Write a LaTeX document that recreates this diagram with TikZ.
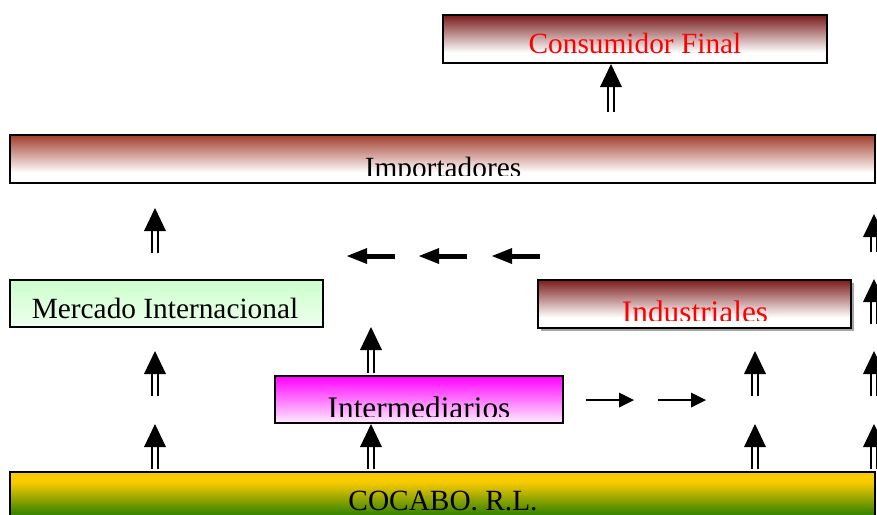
\documentclass[tikz,border=0pt]{standalone}
\usepackage{fontspec}
\setmainfont{Liberation Serif}
\usetikzlibrary{calc,fit}
\definecolor{maroonA}{RGB}{120,26,26}
\definecolor{maroonB}{RGB}{162,60,44}
\definecolor{maroonC}{RGB}{125,28,28}
\definecolor{cocaY}{RGB}{248,202,0}
\definecolor{cocaG}{RGB}{62,134,0}
\definecolor{mercG}{RGB}{204,255,204}
\definecolor{mercW}{RGB}{238,255,238}
\definecolor{magTop}{RGB}{255,0,255}
\definecolor{magBot}{RGB}{255,238,255}
\pgfdeclareverticalshading{fadeA}{100bp}{color(0bp)=(white); color(25bp)=(white); color(36bp)=(white); color(75bp)=(maroonA); color(100bp)=(maroonA)}
\pgfdeclareverticalshading{fadeB}{100bp}{color(0bp)=(white); color(25bp)=(white); color(36bp)=(white); color(75bp)=(maroonB); color(100bp)=(maroonB)}
\pgfdeclareverticalshading{fadeC}{100bp}{color(0bp)=(white); color(25bp)=(white); color(36bp)=(white); color(75bp)=(maroonC); color(100bp)=(maroonC)}
\pgfdeclareverticalshading{coca}{100bp}{color(0bp)=(cocaG); color(25bp)=(cocaG); color(40bp)=(cocaG); color(66bp)=(cocaY); color(100bp)=(cocaY)}
\newcommand\DblUp[2]{%
  \fill ($(#2)$) -- ($(#2)+(-11,23)$) -- ($(#2)+(11,23)$) -- cycle;
  \draw[shaftln] ($(#1)+(-3,0)$) -- ($(#2)+(-3,22)$);
  \draw[shaftln] ($(#1)+(3,0)$) -- ($(#2)+(3,22)$);}
\newcommand\BigLeft[2]{%
  \fill ($(#2)$) -- ($(#2)+(20,-8)$) -- ($(#2)+(20,8)$) -- cycle;
  \draw[line width=3.75pt] ($(#1)$) -- ($(#2)+(19,0)$);}
\newcommand\SmallRight[2]{%
  \fill ($(#2)$) -- ($(#2)+(-15,-7.5)$) -- ($(#2)+(-15,7.5)$) -- cycle;
  \draw[line width=1.4pt] ($(#1)$) -- ($(#2)+(-14,0)$);}
\begin{document}
\begin{tikzpicture}[x=0.75pt,y=-0.75pt,
  box/.style={draw=black, line width=1.5pt, inner sep=0pt},
  lbl/.style={font=\fontsize{22}{26}\selectfont, anchor=base, inner sep=0pt},
  lblbig/.style={font=\fontsize{23.5}{28}\selectfont, anchor=base, inner sep=0pt},
  shaftln/.style={line width=1.5pt}]
\useasboundingbox (0,0) rectangle (877,514);
\clip (0,0) rectangle (877,514);

% boxes
\node[box, shade, shading=fadeA, fit={(443,15) (827,63)}] (cons) {};
\node[box, shade, shading=fadeB, fit={(10,135) (875,183)}] (imp) {};
\node[box, shade, top color=mercG, bottom color=mercW, fit={(10,280) (323,327)}] (merc) {};
\fill[gray!70] (541,283) rectangle (854,331);
\node[box, shade, shading=fadeC, fit={(538,280) (851,328)}] (ind) {};
\node[box, shade, top color=magTop, bottom color=magBot, fit={(275,376) (563,423)}] (inter) {};
\node[box, shade, shading=coca, fit={(10,472) (875,530)}] (coca) {};

% texts
\node[lbl, text=red] (consT) at (635,53) {Consumidor Final};
\begin{scope}
  \clip (12,137) rectangle (873,175);
  \node[lbl] (impT) at (443,177) {Importadores};
\end{scope}
\node[lbl] (mercT) at (165,318) {Mercado Internacional};
\begin{scope}
  \clip (540,282) rectangle (849,320);
  \node[lblbig, text=red] (indT) at (695,322) {Industriales};
\end{scope}
\begin{scope}
  \clip (277,378) rectangle (561,416);
  \node[lblbig] (interT) at (419,418) {Intermediarios};
\end{scope}
\node[lbl] (cocaT) at (443,510) {COCABO. R.L.};

% arrow end points
\coordinate (a1s) at (611,112); \coordinate (a1e) at (611,64);
\coordinate (a2s) at (155,253); \coordinate (a2e) at (155,208);
\coordinate (a3s) at (155,396); \coordinate (a3e) at (155,351);
\coordinate (a4s) at (155,469); \coordinate (a4e) at (155,424);
\coordinate (a5s) at (371,373); \coordinate (a5e) at (371,327);
\coordinate (a6s) at (371,469); \coordinate (a6e) at (371,424);
\coordinate (a7s) at (755,396); \coordinate (a7e) at (755,351);
\coordinate (a8s) at (755,469); \coordinate (a8e) at (755,424);
\coordinate (r1s) at (874,252); \coordinate (r1e) at (874,214);
\coordinate (r2s) at (874,324); \coordinate (r2e) at (874,279);
\coordinate (r3s) at (874,396); \coordinate (r3e) at (874,351);
\coordinate (r4s) at (874,469); \coordinate (r4e) at (874,424);
\coordinate (l1s) at (395,256); \coordinate (l1e) at (347,256);
\coordinate (l2s) at (467,256); \coordinate (l2e) at (419,256);
\coordinate (l3s) at (540,256); \coordinate (l3e) at (492,256);
\coordinate (s1s) at (586,400); \coordinate (s1e) at (634,400);
\coordinate (s2s) at (658,400); \coordinate (s2e) at (706,400);

\DblUp{a1s}{a1e}
\DblUp{a2s}{a2e}
\DblUp{a3s}{a3e}
\DblUp{a4s}{a4e}
\DblUp{a5s}{a5e}
\DblUp{a6s}{a6e}
\DblUp{a7s}{a7e}
\DblUp{a8s}{a8e}
\DblUp{r1s}{r1e}
\DblUp{r2s}{r2e}
\DblUp{r3s}{r3e}
\DblUp{r4s}{r4e}
\BigLeft{l1s}{l1e}
\BigLeft{l2s}{l2e}
\BigLeft{l3s}{l3e}
\SmallRight{s1s}{s1e}
\SmallRight{s2s}{s2e}
\end{tikzpicture}
\end{document}
